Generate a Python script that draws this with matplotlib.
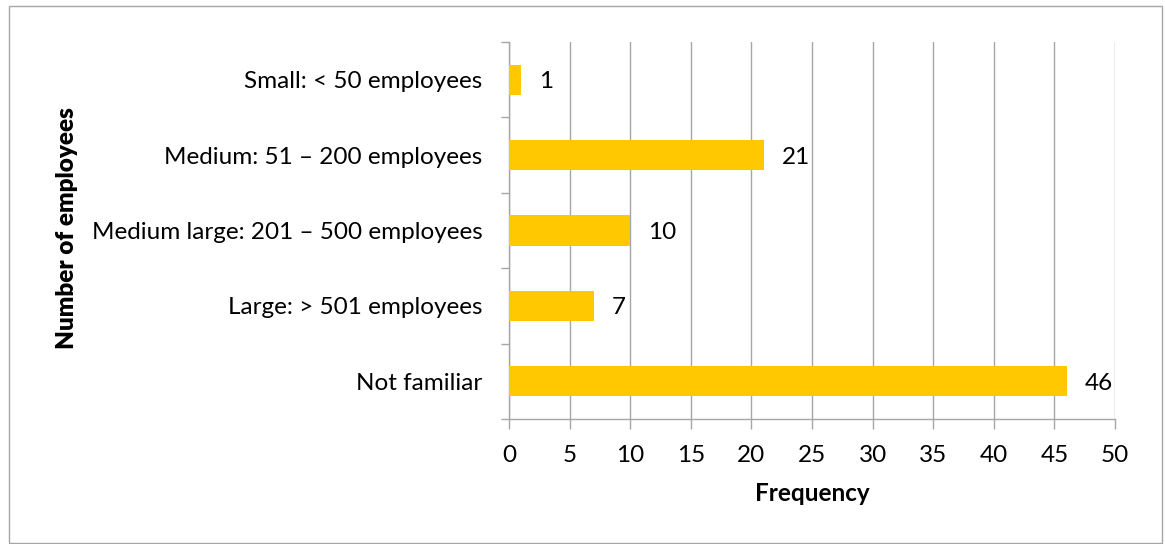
import matplotlib

matplotlib.use("Agg")
import matplotlib.pyplot as plt
from matplotlib.patches import Rectangle

categories = [
    "Small: < 50 employees",
    "Medium: 51 \u2013 200 employees",
    "Medium large: 201 \u2013 500 employees",
    "Large: > 501 employees",
    "Not familiar",
]
frequencies = [1, 21, 10, 7, 46]
x_ticks = list(range(0, 51, 5))

plt.rcParams["font.family"] = ["Lato", "DejaVu Sans"]
FS = 17.5

fig = plt.figure(figsize=(11.65, 5.44), dpi=100)
ax = fig.add_axes([509 / 1165, 1 - 419 / 544, (1115 - 509) / 1165, (419 - 42) / 544])

# Outer chart border
fig.patches.append(
    Rectangle((9 / 1165, 1 / 544), 1153 / 1165, (537) / 544,
              transform=fig.transFigure, fill=False,
              edgecolor="#a6a6a6", linewidth=1.0)
)

positions = list(range(len(categories)))[::-1]
ax.barh(positions, frequencies, height=0.4, color="#FFC800", zorder=3)
for pos, val in zip(positions, frequencies):
    ax.annotate(str(val), (val, pos), xytext=(18, 0), textcoords="offset pixels",
                va="center_baseline", ha="left", fontsize=FS)

ax.set_xlim(0, 50)
ax.set_ylim(-0.5, len(categories) - 0.5)
ax.set_xticks(x_ticks)
ax.set_xticklabels([str(t) for t in x_ticks], fontsize=FS)
ax.set_yticks(positions)
ax.set_yticklabels(categories, fontsize=FS, va="center_baseline")
ax.set_yticks([p + 0.5 for p in range(-1, len(categories))], minor=True)
ax.tick_params(axis="y", which="major", length=0, pad=19)
ax.tick_params(axis="y", which="minor", length=6, color="#a6a6a6", width=1.0)
ax.tick_params(axis="x", length=7, color="#a6a6a6", width=1.0, pad=12)

ax.grid(True, axis="x", color="#a6a6a6", linewidth=1.0, zorder=0)
for side in ["top", "right"]:
    ax.spines[side].set_visible(False)
for side in ["left", "bottom"]:
    ax.spines[side].set_color("#a6a6a6")
    ax.spines[side].set_linewidth(1.0)

ax.set_xlabel("Frequency", fontsize=FS, fontweight="bold", labelpad=11)
fig.text(67 / 1165, 1 - 228 / 544, "Number of employees", rotation=90,
         ha="center", va="center", fontsize=FS, fontweight="heavy")

fig.savefig("out.png", dpi=100, facecolor="white")
